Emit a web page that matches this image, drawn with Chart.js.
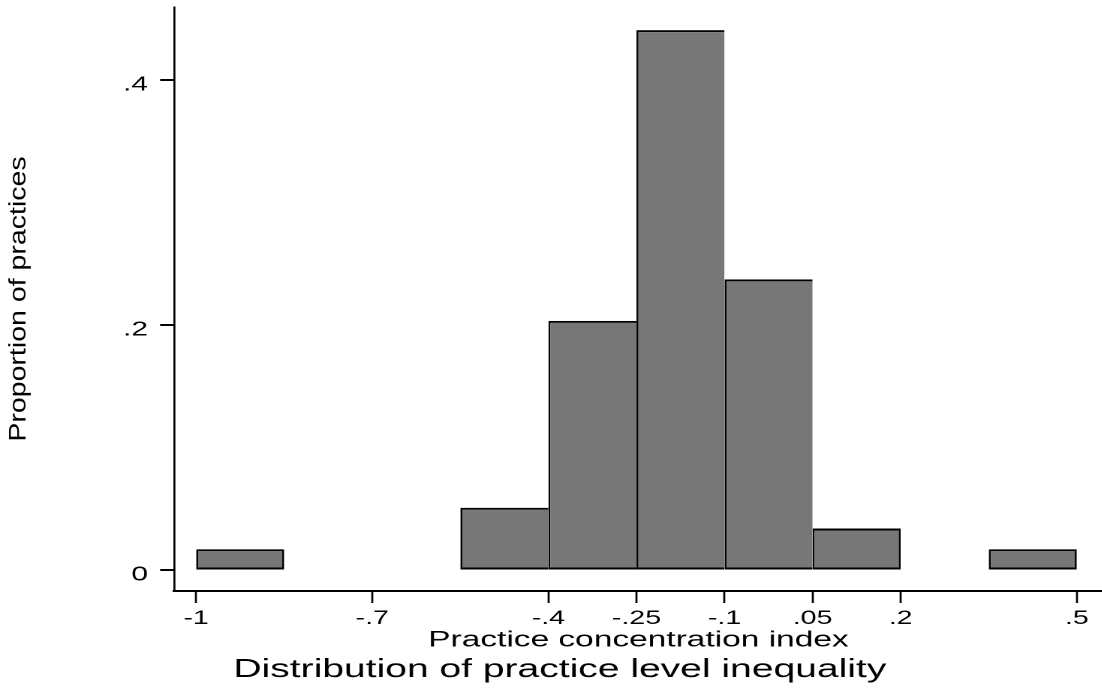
<!DOCTYPE html>
<html>
<head>
<meta charset="utf-8">
<script src="https://cdn.jsdelivr.net/npm/chart.js@4"></script>
<style>
  html, body { margin: 0; padding: 0; background: #fff; }
  /* the source image is a stata graph widened sideways, so draw narrow and stretch */
  #wrap { width: 734.667px; height: 691px; transform: scaleX(1.5); transform-origin: 0 0; }
</style>
</head>
<body>
<div id="wrap"><canvas id="chart"></canvas></div>
<script>
// histogram, bins of width .15 from -1 to .5
const binCentres = [-0.925, -0.775, -0.625, -0.475, -0.325, -0.175, -0.025, 0.125, 0.275, 0.425];
const proportions = [0.0169, 0, 0, 0.0508, 0.2034, 0.4407, 0.2373, 0.0339, 0, 0.0169];
const xTicks = [-1, -0.7, -0.4, -0.25, -0.1, 0.05, 0.2, 0.5];
const yTicks = [0, 0.2, 0.4];
const xTitle = 'Practice concentration index';
const yTitle = 'Proportion of practices';
const mainTitle = 'Distribution of practice level inequality';

const STRETCH = 1.5;
const FONT = '"Liberation Sans", Arial, sans-serif';

// stata style numbers: .2, -.25, 0
function stataNum(v) {
  if (v === 0) return '0';
  return String(+v.toFixed(2)).replace(/^(-?)0\./, '$1.');
}

// y title is drawn by hand so it isn't widened with the rest
const yTitlePlugin = {
  id: 'yTitle',
  afterDraw(chart) {
    const ctx = chart.ctx;
    const a = chart.chartArea;
    ctx.save();
    ctx.translate(12.7, (a.top + a.bottom) / 2);
    ctx.scale(1 / STRETCH, 1);
    ctx.rotate(-Math.PI / 2);
    ctx.scale(1.24, 1);
    ctx.font = '23px ' + FONT;
    ctx.fillStyle = '#000';
    ctx.textAlign = 'center';
    ctx.textBaseline = 'middle';
    ctx.fillText(yTitle, 0, 0);
    ctx.restore();
  }
};

new Chart(document.getElementById('chart'), {
  type: 'bar',
  data: {
    datasets: [{
      data: binCentres.map((x, i) => ({ x: x, y: proportions[i] })),
      backgroundColor: '#777777',
      borderColor: '#000',
      borderWidth: ctx => {
        const next = proportions[ctx.dataIndex + 1];
        return { left: 1.35, right: next > 0 ? 0 : 1.35, top: 2, bottom: 2 };
      },
      borderSkipped: false,
      inflateAmount: 0,
      barPercentage: 1,
      categoryPercentage: 1
    }]
  },
  options: {
    responsive: true,
    maintainAspectRatio: false,
    animation: false,
    devicePixelRatio: 2,
    layout: { padding: { left: 11.3, top: 7, right: 0, bottom: 0 } },
    plugins: {
      legend: { display: false },
      tooltip: { enabled: false },
      title: {
        display: true,
        position: 'bottom',
        text: mainTitle,
        color: '#000',
        font: { family: FONT, size: 26, weight: 'normal', lineHeight: '32px' },
        padding: { top: 0, bottom: 5.3 }
      }
    },
    scales: {
      x: {
        type: 'linear',
        min: -1.0375,
        max: 0.5443,
        offset: false,
        afterBuildTicks: s => { s.ticks = xTicks.map(v => ({ value: v })); },
        afterFit: s => { s.paddingLeft = 0; s.paddingRight = 0; },
        ticks: {
          autoSkip: false, maxRotation: 0, minRotation: 0, padding: 5, color: '#000',
          font: { family: FONT, size: 19, lineHeight: '22px' },
          callback: v => stataNum(v)
        },
        grid: { drawOnChartArea: false, offset: false, tickLength: 12, tickWidth: 1.35, tickColor: '#000', color: '#000' },
        border: { display: true, color: '#000', width: 2 },
        title: {
          display: true, text: xTitle, color: '#000',
          font: { family: FONT, size: 22.3, lineHeight: '11px' },
          padding: { top: 0, bottom: 7.7 }
        }
      },
      y: {
        min: -0.01714,
        max: 0.4596,
        afterBuildTicks: s => { s.ticks = yTicks.map(v => ({ value: v })); },
        afterFit: s => { s.width = 104.7; s.paddingTop = 0; s.paddingBottom = 0; },
        ticks: {
          padding: 8, labelOffset: 5, color: '#000',
          font: { family: FONT, size: 20 },
          callback: v => stataNum(v)
        },
        grid: { drawOnChartArea: false, tickLength: 9.33, tickWidth: 2, tickColor: '#000', color: '#000' },
        border: { display: true, color: '#000', width: 1.35 }
      }
    }
  },
  plugins: [yTitlePlugin]
});
</script>
</body>
</html>
